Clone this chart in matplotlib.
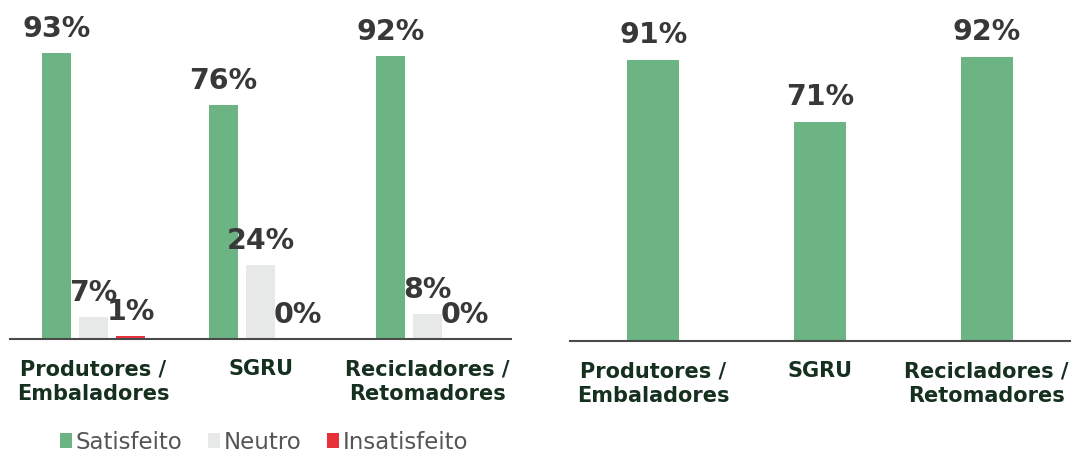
import matplotlib
matplotlib.use("Agg")
import matplotlib.pyplot as plt
import numpy as np

from matplotlib import rcParams
rcParams["font.family"] = ["DejaVu Sans"]

# data
categories = ["Produtores /\nEmbaladores", "SGRU", "Recicladores /\nRetomadores"]
satisfeito = [93, 76, 92]
neutro = [7, 24, 8]
insatisfeito = [1, 0, 0]
satisfeito_right = [91, 71, 92]

green = "#6cb483"
grey = "#e6e9e8"
red = "#e8303a"
label_col = "#383838"
cat_col = "#16301f"

W, H = 1072, 456
fig = plt.figure(figsize=(W / 100, H / 100), dpi=100)

px_per_pct_l = 3.075
px_per_pct_r = 3.09
axl = fig.add_axes([10 / W, (H - 340) / H, 501 / W, 100 * px_per_pct_l / H])
axr = fig.add_axes([570 / W, (H - 342) / H, 500 / W, 100 * px_per_pct_r / H])

x = np.arange(len(categories))
slot = 0.2216
bw = 0.174


def add_labels(ax, bars, vals):
    for b, v in zip(bars, vals):
        ax.annotate("%d%%" % v, (b.get_x() + b.get_width() / 2, b.get_height()),
                    xytext=(0, 12.5), textcoords="offset points",
                    ha="center", va="baseline", fontsize=20.5, fontweight="bold",
                    color=label_col, annotation_clip=False)


b1 = axl.bar(x - slot, satisfeito, bw, color=green, label="Satisfeito")
b2 = axl.bar(x, neutro, bw, color=grey, label="Neutro")
b3 = axl.bar(x + slot, insatisfeito, bw, color=red, label="Insatisfeito")
add_labels(axl, b1, satisfeito)
add_labels(axl, b2, neutro)
add_labels(axl, b3, insatisfeito)

br = axr.bar(x, satisfeito_right, 0.311, color=green)
add_labels(axr, br, satisfeito_right)

for ax in (axl, axr):
    ax.set_xlim(-0.5, 2.5)
    ax.set_ylim(0, 100)
    for s in ("top", "right", "left"):
        ax.spines[s].set_visible(False)
    ax.spines["bottom"].set_color("#4a4a4a")
    ax.spines["bottom"].set_linewidth(1.5)
    ax.set_yticks([])
    ax.set_xticks(x)
    ax.set_xticklabels(categories, fontsize=15, fontweight="bold", color=cat_col,
                       linespacing=1.3)
    ax.tick_params(axis="x", length=0, pad=14)

leg = fig.legend(handles=[b1, b2, b3], loc="center", bbox_to_anchor=(264 / W, 1 - 443 / H),
                 ncol=3, frameon=False, fontsize=16.5, handlelength=0.52, handleheight=0.62,
                 handletextpad=0.18, columnspacing=1.1, labelcolor="#555555")

fig.savefig("out.png", dpi=100)
